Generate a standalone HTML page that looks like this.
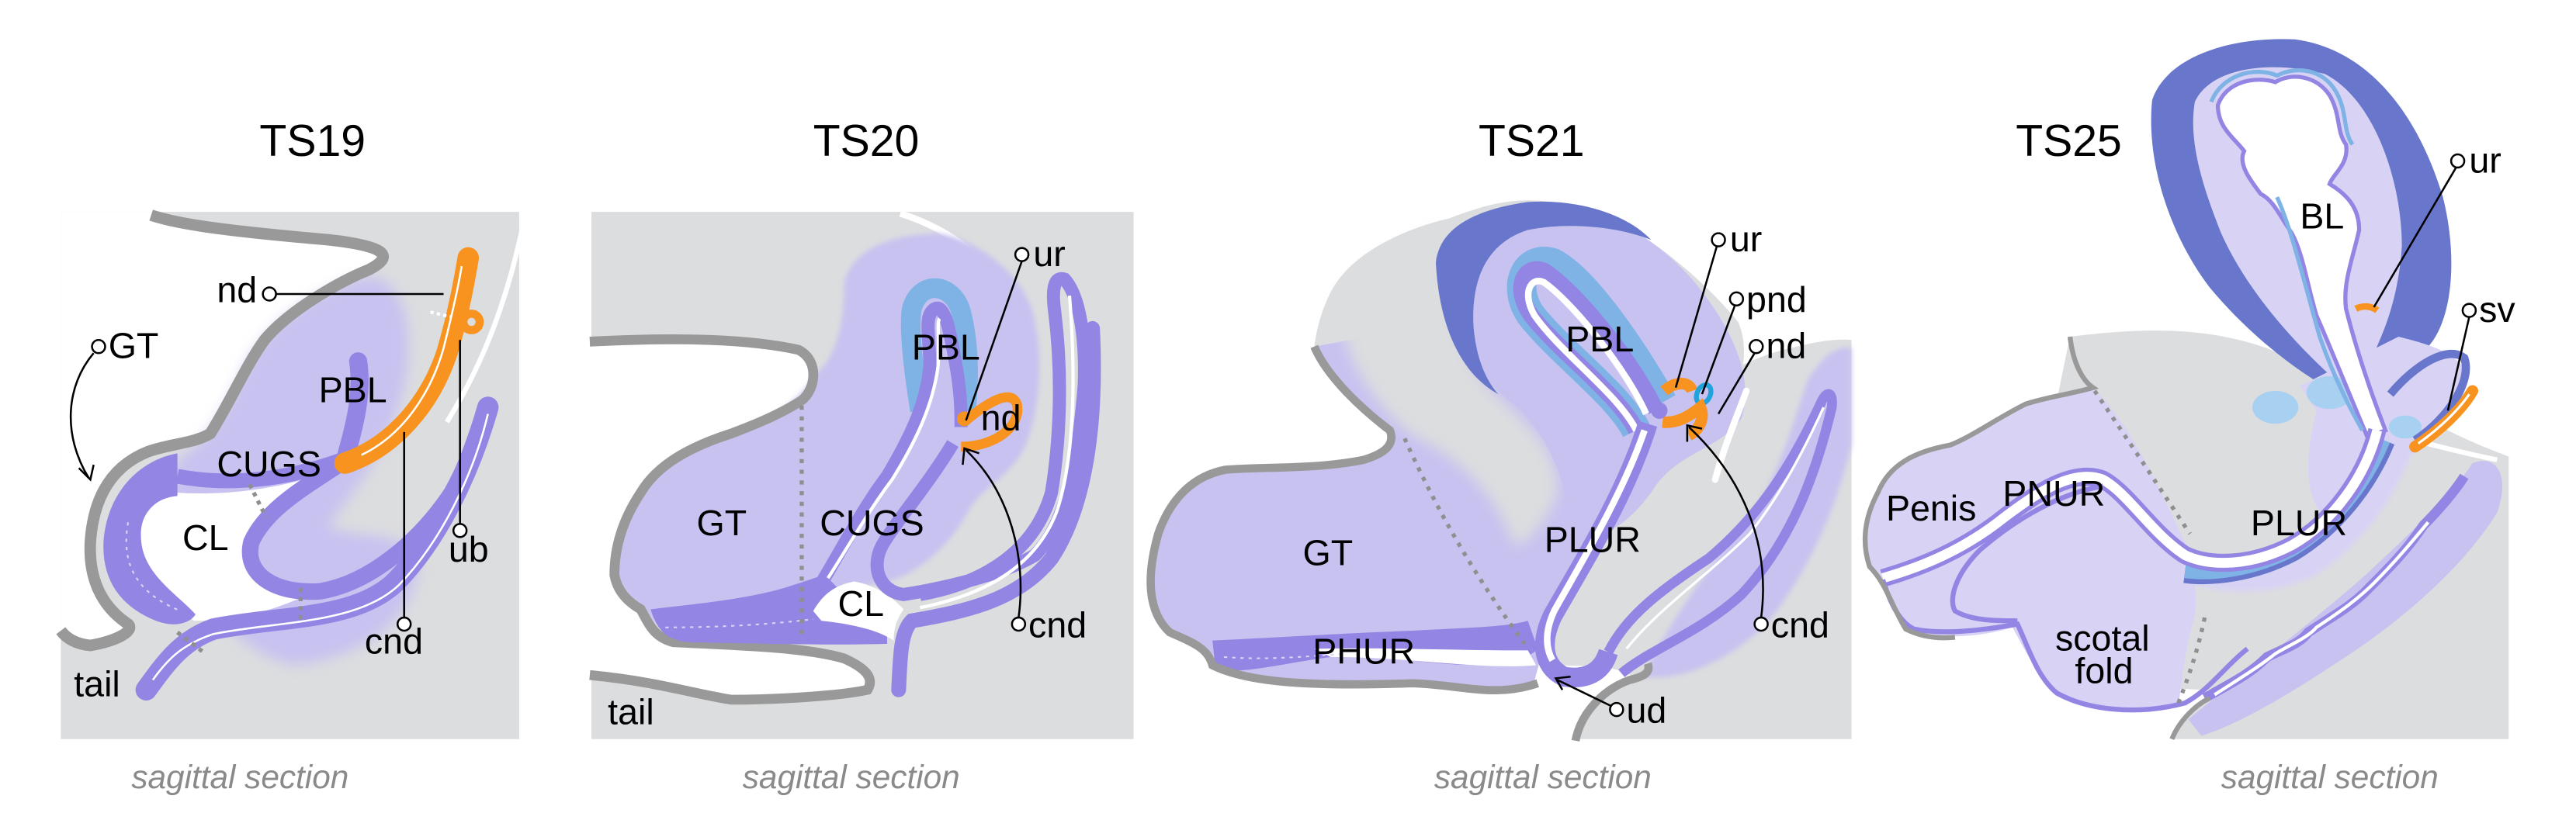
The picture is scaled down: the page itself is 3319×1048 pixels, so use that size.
<!DOCTYPE html>
<html><head><meta charset="utf-8"><style>
html,body{margin:0;padding:0;background:#fff;width:3319px;height:1048px;overflow:hidden}
svg{display:block}
text{font-family:"Liberation Sans",Arial,sans-serif;fill:#000}
.t{font-size:27px}
.l{font-size:22px}
.s{font-size:20px;font-style:italic;fill:#8a8a8a}
</style></head><body>
<svg width="3319" height="1048" viewBox="0 0 1568 495" preserveAspectRatio="none" xmlns="http://www.w3.org/2000/svg">
<defs>
<filter id="b4" x="-20%" y="-20%" width="140%" height="140%"><feGaussianBlur stdDeviation="4"/></filter>
<filter id="b2" x="-20%" y="-20%" width="140%" height="140%"><feGaussianBlur stdDeviation="1.5"/></filter>
</defs>
<rect width="1568" height="495" fill="#fff"/>

<!-- ================= PANEL 1 ================= -->
<rect x="37" y="129" width="279" height="321" fill="#dcdddf"/>
<path d="M37,129 L92,129 C110,135 142,141 200,146 C236,150 240,156 225,164 C205,172 175,190 161,207 C150,222 140,245 128,264 C118,270 104,270 90,275 C70,283 57,300 55,330 C54,350 60,368 78,380 C82,384 72,390 55,393 L37,385 Z" fill="#fff"/>
<path d="M320,129 C310,180 295,220 272,257" stroke="#fff" stroke-width="3" fill="none"/>
<!-- lavender -->
<path d="M110,278 C128,268 140,245 150,222 C165,195 195,175 225,168 C245,170 255,200 245,240 C235,275 215,300 200,320 C220,330 250,320 255,345 C250,380 220,400 180,405 C150,400 130,375 115,350 C100,320 100,290 110,278 Z" fill="#c8c2f0" filter="url(#b4)"/>
<!-- outline -->
<path d="M92,131 C110,137 142,141 200,146 C236,150 240,156 225,164 C205,172 175,190 161,207 C150,222 140,245 128,264 C118,270 104,270 90,275 C70,283 57,300 55,330 C54,350 60,368 78,380 C82,384 72,390 55,393 C45,392 40,388 37,384" stroke="#999" stroke-width="7" fill="none"/>
<!-- cloaca white -->
<path d="M108,300 C140,302 175,297 206,285 C185,300 164,312 151,329 C148,350 165,360 185,363 C160,375 135,378 118,378 C105,365 88,350 84,330 C84,315 95,303 108,300 Z" fill="#fff"/>
<!-- left thick band -->
<path d="M108,276 C85,280 65,300 63,330 C62,355 75,370 95,378 C108,383 117,378 119,374 C108,362 88,350 86,330 C84,312 95,303 108,302 Z" fill="#9385e3"/>
<path d="M78,318 C74,340 80,360 110,372" stroke="#d8d4f5" stroke-width="1" stroke-dasharray="2,3" fill="none"/>
<path d="M108,290 C140,296 175,292 208,280" stroke="#9385e3" stroke-width="9" fill="none"/>
<path d="M218,220 C221,240 216,258 210,280" stroke="#9385e3" stroke-width="11" stroke-linecap="round" fill="none"/>
<path d="M206,283 C185,297 162,310 153,330 C148,350 168,362 195,360 C225,355 255,330 275,300 C286,280 292,262 297,248" stroke="#9385e3" stroke-width="10" fill="none"/>
<path d="M89,420 C100,405 110,390 130,383 C170,375 215,378 240,355 C265,330 285,290 297,248" stroke="#9385e3" stroke-width="13" stroke-linecap="round" fill="none"/>
<path d="M93,414 C103,400 112,392 130,386 C170,378 218,380 243,356 C268,330 288,290 297,252" stroke="#fff" stroke-width="1.2" fill="none"/>
<path d="M152,295 L162,315 M183,358 L183,378 M108,385 L125,398" stroke="#8f8f8f" stroke-width="2.5" stroke-dasharray="2.5,3" fill="none"/>
<!-- orange nd -->
<path d="M210,282 C240,272 262,245 272,215 C278,195 282,175 285,157" stroke="#f7931e" stroke-width="13" stroke-linecap="round" fill="none"/>
<path d="M220,277 C245,265 262,240 270,212 C275,192 279,175 281,162" stroke="#fff" stroke-width="1.2" fill="none"/>
<circle cx="287" cy="196" r="5" fill="none" stroke="#f7931e" stroke-width="5"/>
<path d="M262,190 L275,193" stroke="#fff" stroke-width="2" stroke-dasharray="2,2"/>
<text class="t" x="158" y="95">TS19</text>
<line x1="168" y1="179" x2="270" y2="179" stroke="#000" stroke-width="1.2"/>
<circle cx="164" cy="179" r="4" fill="#fff" stroke="#000" stroke-width="1.2"/>
<text class="l" x="132" y="184">nd</text>
<circle cx="60" cy="211" r="4" fill="#fff" stroke="#000" stroke-width="1.2"/>
<text class="l" x="66" y="218">GT</text>
<path d="M57,215 C40,235 38,265 54,291" stroke="#000" stroke-width="1.2" fill="none"/>
<path d="M48,285 L55,292 L57,283" stroke="#000" stroke-width="1.2" fill="none"/>
<text class="l" x="194" y="245">PBL</text>
<text class="l" x="132" y="290">CUGS</text>
<text class="l" x="111" y="335">CL</text>
<line x1="280" y1="207" x2="280" y2="319" stroke="#000" stroke-width="1.2"/>
<circle cx="280" cy="323" r="4" fill="#fff" stroke="#000" stroke-width="1.2"/>
<text class="l" x="273" y="342">ub</text>
<line x1="246" y1="263" x2="246" y2="376" stroke="#000" stroke-width="1.2"/>
<circle cx="246" cy="380" r="4" fill="#fff" stroke="#000" stroke-width="1.2"/>
<text class="l" x="222" y="398">cnd</text>
<text class="l" x="45" y="424">tail</text>
<text class="s" x="80" y="480">sagittal section</text>

<!-- ================= PANEL 2 ================= -->
<rect x="360" y="129" width="330" height="321" fill="#dcdddf"/>
<path d="M548,130 C580,140 605,160 620,190 C632,215 628,245 615,264" stroke="#fff" stroke-width="4" fill="none"/>
<path d="M359,208 C400,206 450,205 486,213 C500,220 496,240 486,245 C470,255 450,262 445,264 C420,272 400,283 390,300 C378,318 374,335 374,350 C376,362 385,368 390,371 C395,380 398,388 410,391 C450,393 491,394 514,401 C525,406 533,412 528,420 C510,424 470,426 445,426 C420,422 400,415 359,411 Z" fill="#fff"/>
<path d="M496,228 C505,222 514,205 514,171 C520,152 540,143 571,142 C595,146 620,165 628,188 C636,215 633,250 624,272 C615,290 598,297 590,310 C580,330 560,350 537,355 C500,360 470,370 399,380 C390,371 378,362 374,350 C374,335 376,318 390,300 C400,283 420,272 445,264 C470,255 486,245 496,228 Z" fill="#c8c2f0" filter="url(#b2)"/>
<path d="M359,208 C400,206 450,205 486,213 C500,220 496,240 486,245 C470,255 450,262 445,264 C420,272 400,283 390,300 C378,318 374,335 374,350 C376,362 385,368 390,371 C395,380 398,388 410,391 C450,393 491,394 514,401 C525,406 533,412 528,420 C510,424 470,426 445,426 C420,422 400,415 359,411" stroke="#999" stroke-width="6" fill="none"/>
<path d="M396,371 C420,368 445,366 470,360 C485,356 495,352 502,350 L510,358 L500,376 L540,386 L540,392 C510,393 470,392 420,391 C405,390 400,383 396,371 Z" fill="#9385e3"/>
<path d="M405,382 C440,382 470,380 495,377" stroke="#d8d4f5" stroke-width="1" stroke-dasharray="2,3" fill="none"/>
<path d="M495,372 C502,360 510,356 520,354 C530,356 540,360 550,371 C546,377 544,382 544,390 C535,384 520,380 500,378 Z" fill="#fff"/>
<path d="M560,250 C556,225 553,200 555,188 C560,170 580,172 585,190 C590,210 590,230 588,250" stroke="#7fb3e6" stroke-width="12" fill="none"/>
<path d="M500,355 C512,335 525,310 540,290 C555,265 564,245 566,223 C566,205 562,192 569,188 C575,185 578,200 582,223 C585,240 585,252 585,260" stroke="#9385e3" stroke-width="8" fill="none"/>
<path d="M504,352 C515,335 528,312 543,292 C558,268 568,246 571,223 C572,205 570,196 572,194" stroke="#fff" stroke-width="2" fill="none"/>
<path d="M580,270 C565,295 545,318 537,332 C530,345 535,360 550,362 C575,358 610,350 630,338 C648,320 656,285 660,234 C661,205 657,180 648,170 C642,168 640,175 642,190 C647,230 645,270 640,300 C630,335 600,355 560,362" stroke="#9385e3" stroke-width="8" fill="none"/>
<path d="M665,200 C668,260 660,310 640,340 C620,365 590,372 555,378 C548,385 548,400 547,420" stroke="#9385e3" stroke-width="9" stroke-linecap="round" fill="none"/>
<path d="M651,180 C655,230 654,280 643,312 C630,345 600,362 560,370" stroke="#fff" stroke-width="2" fill="none"/>
<path d="M588,256 C600,246 615,236 619,246 C622,260 605,272 585,272" stroke="#f7931e" stroke-width="6" fill="none"/>
<circle cx="587" cy="255" r="4.5" fill="#f7931e"/>
<path d="M488,247 L488,390" stroke="#8f8f8f" stroke-width="2.5" stroke-dasharray="2.5,4" fill="none"/>
<text class="t" x="495" y="95">TS20</text>
<line x1="622" y1="159" x2="588" y2="256" stroke="#000" stroke-width="1.2"/>
<circle cx="622" cy="155" r="4" fill="#fff" stroke="#000" stroke-width="1.2"/>
<text class="l" x="629" y="162">ur</text>
<text class="l" x="555" y="219">PBL</text>
<text class="l" x="597" y="262">nd</text>
<text class="l" x="424" y="326">GT</text>
<text class="l" x="499" y="326">CUGS</text>
<text class="l" x="510" y="375">CL</text>
<path d="M620,376 C625,340 615,300 588,274" stroke="#000" stroke-width="1.2" fill="none"/>
<path d="M586,283 L587,273 L596,276" stroke="#000" stroke-width="1.2" fill="none"/>
<circle cx="620" cy="380" r="4" fill="#fff" stroke="#000" stroke-width="1.2"/>
<text class="l" x="626" y="388">cnd</text>
<text class="l" x="370" y="441">tail</text>
<text class="s" x="452" y="480">sagittal section</text>

<!-- ================= PANEL 3 ================= -->
<path d="M800,211 C802,195 808,179 815,170 C830,150 860,138 882,133 C900,126 915,122 930,122 C950,122 975,128 990,138 C1020,155 1045,180 1058,196 C1062,205 1062,215 1061,222 C1070,218 1080,214 1090,212 C1105,208 1118,206 1127,207 L1127,450 L959,450 C962,435 975,420 995,413 C980,400 940,410 930,400 C910,330 880,270 850,262 C830,245 810,225 800,211 Z" fill="#dcdddf"/>
<path d="M800,211 C810,230 830,250 846,262 C850,272 840,277 830,280 C800,286 770,284 746,286 C725,290 712,305 705,325 C698,350 700,370 715,385 C728,392 735,395 738,405 C760,416 800,418 860,416 C890,417 910,420 933,418 L945,375 C965,330 990,290 1000,265 L1000,245 C990,230 960,200 940,185 Z" fill="#c8c2f0"/>
<path d="M815,178 C840,150 875,138 885,140 C880,175 885,210 905,235 C925,255 948,270 948,300 C940,320 930,330 922,332 C910,300 890,280 860,265 C835,245 815,215 815,178 Z" fill="#dcdddf" filter="url(#b4)"/>
<path d="M874,157 C880,140 905,128 940,125 C975,126 1005,142 1030,170 C1055,200 1068,230 1060,255 C1045,275 1020,275 1005,300 C990,320 975,330 955,325 C955,290 940,262 920,245 C895,225 876,195 874,157 Z" fill="#c8c2f0"/>
<path d="M874,160 C876,140 895,128 930,123 C960,121 990,130 1005,146 C985,138 955,135 930,140 C905,148 895,170 897,200 C899,220 905,232 912,240 C890,228 876,200 874,160 Z" fill="#6877cc"/>
<path d="M1000,412 C1015,380 1040,345 1065,315 C1085,285 1092,255 1100,232 C1110,215 1120,210 1127,212 L1127,270 C1118,310 1100,350 1075,380 C1050,405 1020,415 1000,412 Z" fill="#c8c2f0" filter="url(#b2)"/>
<path d="M1044,292 C1050,270 1058,252 1063,238" stroke="#fff" stroke-width="4" stroke-linecap="round" fill="none"/>
<path d="M996,262 C985,240 950,215 932,192 C920,175 928,155 945,160 C965,170 995,215 1012,245" stroke="#7fb3e6" stroke-width="18" fill="none"/>
<path d="M996,262 C985,240 950,215 932,192 C920,175 928,160 940,165 C960,178 995,222 1008,250" stroke="#9385e3" stroke-width="10" fill="none"/>
<path d="M996,262 C985,240 950,215 934,192 C926,178 932,168 940,172 C958,185 990,225 1002,252" stroke="#fff" stroke-width="4" fill="none"/>
<path d="M1003,258 C990,300 965,340 945,375 C938,390 938,405 952,412 C965,414 975,410 979,397" stroke="#9385e3" stroke-width="12" fill="none"/>
<path d="M1001,262 C988,300 964,340 946,372 C940,385 941,395 945,402" stroke="#fff" stroke-width="4" fill="none"/>
<path d="M979,397 C990,375 1010,360 1040,340 C1070,315 1090,285 1109,244 C1112,238 1116,238 1115,248 C1105,290 1090,330 1060,362 C1035,385 1005,395 987,410" stroke="#9385e3" stroke-width="6" fill="none"/>
<path d="M990,395 C1010,370 1040,350 1065,325 C1085,300 1100,270 1110,248" stroke="#fff" stroke-width="1.5" fill="none"/>
<path d="M738,390 C780,388 830,385 860,384 C895,382 915,382 930,378 L936,395 C930,402 915,404 900,405 C870,405 840,398 810,400 C780,404 760,410 740,408 Z" fill="#9385e3"/>
<path d="M800,395 C840,394 880,396 930,396 L935,405 C900,408 860,400 810,400 Z" fill="#fff"/>
<path d="M745,400 C770,402 790,400 820,398" stroke="#d8d4f5" stroke-width="1" stroke-dasharray="2,3" fill="none"/>
<path d="M800,211 C808,230 830,250 846,262 C850,272 840,277 830,280 C800,286 770,284 746,286 C725,290 712,305 705,325 C698,350 698,372 712,385 C728,392 735,395 738,405 C760,416 800,418 860,416 C890,417 910,425 936,416" stroke="#999" stroke-width="5" fill="none"/>
<path d="M959,451 C962,435 975,420 992,414 C1000,412 1005,410 1003,404" stroke="#999" stroke-width="5" fill="none"/>
<path d="M855,267 C870,300 890,340 928,392" stroke="#8f8f8f" stroke-width="2.5" stroke-dasharray="2.5,4" fill="none"/>
<path d="M1013,238 C1020,232 1028,232 1030,238" stroke="#f7931e" stroke-width="7" fill="none"/>
<ellipse cx="1037" cy="240" rx="4" ry="6" fill="none" stroke="#22a3dc" stroke-width="3" transform="rotate(25 1037 240)"/>
<path d="M1012,257 C1022,258 1030,252 1035,248 C1038,255 1034,262 1028,265" stroke="#f7931e" stroke-width="7" fill="none"/>
<circle cx="1010" cy="250" r="5" fill="#9385e3"/>
<text class="t" x="900" y="95">TS21</text>
<line x1="1045" y1="150" x2="1020" y2="236" stroke="#000" stroke-width="1.2"/>
<circle cx="1046" cy="146" r="4" fill="#fff" stroke="#000" stroke-width="1.2"/>
<text class="l" x="1053" y="153">ur</text>
<line x1="1056" y1="186" x2="1036" y2="240" stroke="#000" stroke-width="1.2"/>
<circle cx="1057" cy="182" r="4" fill="#fff" stroke="#000" stroke-width="1.2"/>
<text class="l" x="1063" y="190">pnd</text>
<line x1="1068" y1="215" x2="1046" y2="252" stroke="#000" stroke-width="1.2"/>
<circle cx="1069" cy="211" r="4" fill="#fff" stroke="#000" stroke-width="1.2"/>
<text class="l" x="1075" y="218">nd</text>
<text class="l" x="953" y="214">PBL</text>
<text class="l" x="793" y="344">GT</text>
<text class="l" x="940" y="336">PLUR</text>
<text class="l" x="799" y="404">PHUR</text>
<path d="M1072,376 C1078,330 1060,290 1028,260" stroke="#000" stroke-width="1.2" fill="none"/>
<path d="M1027,269 L1027,259 L1036,261" stroke="#000" stroke-width="1.2" fill="none"/>
<circle cx="1072" cy="380" r="4" fill="#fff" stroke="#000" stroke-width="1.2"/>
<text class="l" x="1078" y="388">cnd</text>
<line x1="981" y1="430" x2="948" y2="414" stroke="#000" stroke-width="1.2"/>
<path d="M951,420 L947,413 L956,412" stroke="#000" stroke-width="1.2" fill="none"/>
<circle cx="984" cy="432" r="4" fill="#fff" stroke="#000" stroke-width="1.2"/>
<text class="l" x="990" y="440">ud</text>
<text class="s" x="873" y="480">sagittal section</text>

<!-- ================= PANEL 4 ================= -->
<path d="M1260,205 C1300,200 1340,198 1380,212 C1420,230 1460,245 1490,262 C1510,272 1520,275 1527,278 L1527,450 L1322,450 C1330,435 1340,428 1350,420 C1300,420 1250,410 1240,390 C1230,360 1240,300 1260,205 Z" fill="#dcdddf"/>
<!-- penis/scrotal lavender (left of dotted line) -->
<path d="M1274,236 C1300,262 1315,300 1330,330 C1335,345 1338,360 1336,375 C1330,395 1328,415 1326,430 C1300,436 1270,432 1250,422 C1240,410 1232,395 1225,382 C1205,388 1180,390 1160,383 C1152,370 1148,355 1138,345 C1133,330 1135,315 1143,300 C1150,283 1165,275 1187,271 C1200,266 1215,255 1233,246 C1245,242 1260,240 1274,236 Z" fill="#d8d3f5"/>
<!-- lavender along urethra -->
<path d="M1320,330 C1350,350 1390,345 1420,320 C1440,300 1455,280 1462,260 L1470,270 C1460,300 1440,330 1410,350 C1380,365 1345,362 1320,350 Z" fill="#d8d3f5" filter="url(#b2)"/>
<!-- bottom right lavender -->
<path d="M1332,438 C1360,415 1400,385 1440,350 C1470,322 1495,298 1505,282 C1520,276 1528,290 1520,312 C1500,345 1460,380 1420,405 C1390,425 1360,442 1340,448 Z" fill="#c8c2f0"/>
<path d="M1342,425 C1360,415 1370,410 1380,400 C1390,395 1400,392 1405,385 C1420,375 1430,370 1440,360 C1455,345 1465,335 1475,320 C1485,310 1495,298 1500,290" stroke="#9385e3" stroke-width="6" fill="none"/>
<path d="M1348,423 C1365,412 1375,406 1385,398 C1395,392 1405,388 1410,382 C1425,372 1435,365 1445,355 C1458,342 1468,330 1478,318" stroke="#fff" stroke-width="2" fill="none"/>
<path d="M1430,262 C1450,260 1470,270 1520,280" stroke="#fff" stroke-width="3" fill="none"/>
<!-- bladder dark blue -->
<path d="M1310,61 C1318,36 1355,22 1397,24 C1442,30 1472,70 1487,120 C1497,160 1492,200 1475,214 C1462,225 1445,232 1427,242 C1400,228 1370,205 1345,175 C1322,145 1306,100 1310,61 Z" fill="#6877cc"/>
<path d="M1336,62 C1345,42 1380,36 1415,45 C1445,60 1462,110 1462,150 C1460,180 1452,200 1445,215 C1435,222 1425,228 1420,230 C1398,210 1368,178 1352,142 C1340,112 1332,85 1336,62 Z" fill="#d8d3f5"/>
<!-- lower bladder/urethra lavender -->
<path d="M1400,235 C1420,225 1440,215 1460,205 C1480,210 1495,215 1500,225 C1505,240 1490,260 1470,275 C1450,285 1430,300 1415,315 C1400,300 1405,270 1410,250 Z" fill="#d8d3f5"/>
<ellipse cx="1385" cy="248" rx="14" ry="10" fill="#a8d0f0"/>
<ellipse cx="1418" cy="239" rx="14" ry="10" fill="#a8d0f0"/>
<ellipse cx="1464" cy="260" rx="10" ry="7" fill="#a8d0f0"/>
<path d="M1455,240 C1470,222 1490,210 1500,218 C1505,232 1490,255 1470,268" stroke="#6877cc" stroke-width="5" fill="none"/>
<!-- BL lumen (wide) -->
<path d="M1350,64 C1355,50 1372,46 1385,50 C1395,44 1410,46 1418,58 C1425,70 1422,80 1428,88 C1430,100 1420,106 1418,112 C1428,118 1436,126 1436,140 C1432,158 1426,172 1428,188 C1434,212 1442,236 1452,262 L1441,266 C1430,240 1420,215 1410,192 C1404,172 1402,155 1395,142 C1388,132 1384,122 1376,118 C1370,110 1362,100 1366,92 C1360,84 1350,78 1350,64 Z" fill="#fff" stroke="#9385e3" stroke-width="2.5"/>
<path d="M1346,62 C1352,46 1372,40 1386,46 C1398,40 1414,42 1422,56 C1429,68 1426,80 1432,88" stroke="#7fb3e6" stroke-width="2.5" fill="none"/>
<path d="M1386,120 C1395,140 1402,170 1412,205 C1420,228 1430,248 1438,262" stroke="#7fb3e6" stroke-width="2.5" fill="none"/>
<!-- urethra sheaths -->
<path d="M1451,268 C1440,295 1420,320 1395,335 C1370,348 1345,350 1330,348" stroke="#6877cc" stroke-width="14" fill="none"/>
<path d="M1451,268 C1440,295 1420,320 1395,335 C1370,348 1345,350 1330,348" stroke="#7fb3e6" stroke-width="8" fill="none"/>
<path d="M1447,262 C1440,290 1420,318 1395,332 C1370,345 1345,345 1330,338 C1310,325 1295,300 1280,292 C1262,285 1240,300 1220,315 C1195,335 1170,345 1146,352" stroke="#9385e3" stroke-width="11" fill="none"/>
<path d="M1447,262 C1440,290 1420,318 1395,332 C1370,345 1345,345 1330,338 C1310,325 1295,300 1280,292 C1262,285 1240,300 1220,315 C1195,335 1170,345 1146,352" stroke="#fff" stroke-width="6" fill="none"/>
<path d="M1146,353 C1150,365 1155,378 1165,383 C1180,386 1200,385 1228,380 C1235,395 1240,412 1252,422 C1270,432 1300,436 1330,428 C1345,420 1355,405 1368,395" stroke="#9385e3" stroke-width="3" fill="none"/>
<path d="M1280,296 C1255,300 1228,315 1205,335 C1190,350 1186,365 1190,372 C1200,378 1215,378 1228,378" stroke="#9385e3" stroke-width="3" fill="none"/>
<path d="M1260,205 C1262,222 1268,232 1274,236 C1260,240 1245,242 1233,246 C1215,255 1200,266 1187,271 C1165,275 1150,283 1143,300 C1135,315 1133,330 1138,345 C1148,355 1152,370 1160,383 C1170,388 1180,389 1190,388" stroke="#999" stroke-width="3" fill="none"/>
<path d="M1322,450 C1326,440 1335,430 1345,425" stroke="#999" stroke-width="3" fill="none"/>
<path d="M1275,238 C1290,260 1310,290 1333,325" stroke="#8f8f8f" stroke-width="2.5" stroke-dasharray="2.5,4" fill="none"/>
<path d="M1342,376 C1338,395 1333,410 1326,428" stroke="#8f8f8f" stroke-width="2.5" stroke-dasharray="2.5,4" fill="none"/>
<path d="M1434,188 C1438,186 1443,186 1447,189" stroke="#f7931e" stroke-width="4" fill="none"/>
<path d="M1470,272 C1485,262 1498,250 1505,238" stroke="#f7931e" stroke-width="7" stroke-linecap="round" fill="none"/>
<path d="M1472,270 C1486,260 1497,249 1503,240" stroke="#fff" stroke-width="1.5" fill="none"/>
<text class="t" x="1227" y="95">TS25</text>
<line x1="1495" y1="102" x2="1445" y2="187" stroke="#000" stroke-width="1.2"/>
<circle cx="1496" cy="98" r="4" fill="#fff" stroke="#000" stroke-width="1.2"/>
<text class="l" x="1503" y="105">ur</text>
<text class="l" x="1400" y="139">BL</text>
<line x1="1503" y1="193" x2="1490" y2="250" stroke="#000" stroke-width="1.2"/>
<circle cx="1503" cy="189" r="4" fill="#fff" stroke="#000" stroke-width="1.2"/>
<text class="l" x="1509" y="196">sv</text>
<text class="l" x="1148" y="317">Penis</text>
<text class="l" x="1219" y="308">PNUR</text>
<text class="l" x="1370" y="326">PLUR</text>
<text class="l" x="1251" y="396">scotal</text>
<text class="l" x="1263" y="416">fold</text>
<text class="s" x="1352" y="480">sagittal section</text>
</svg>
</body></html>
